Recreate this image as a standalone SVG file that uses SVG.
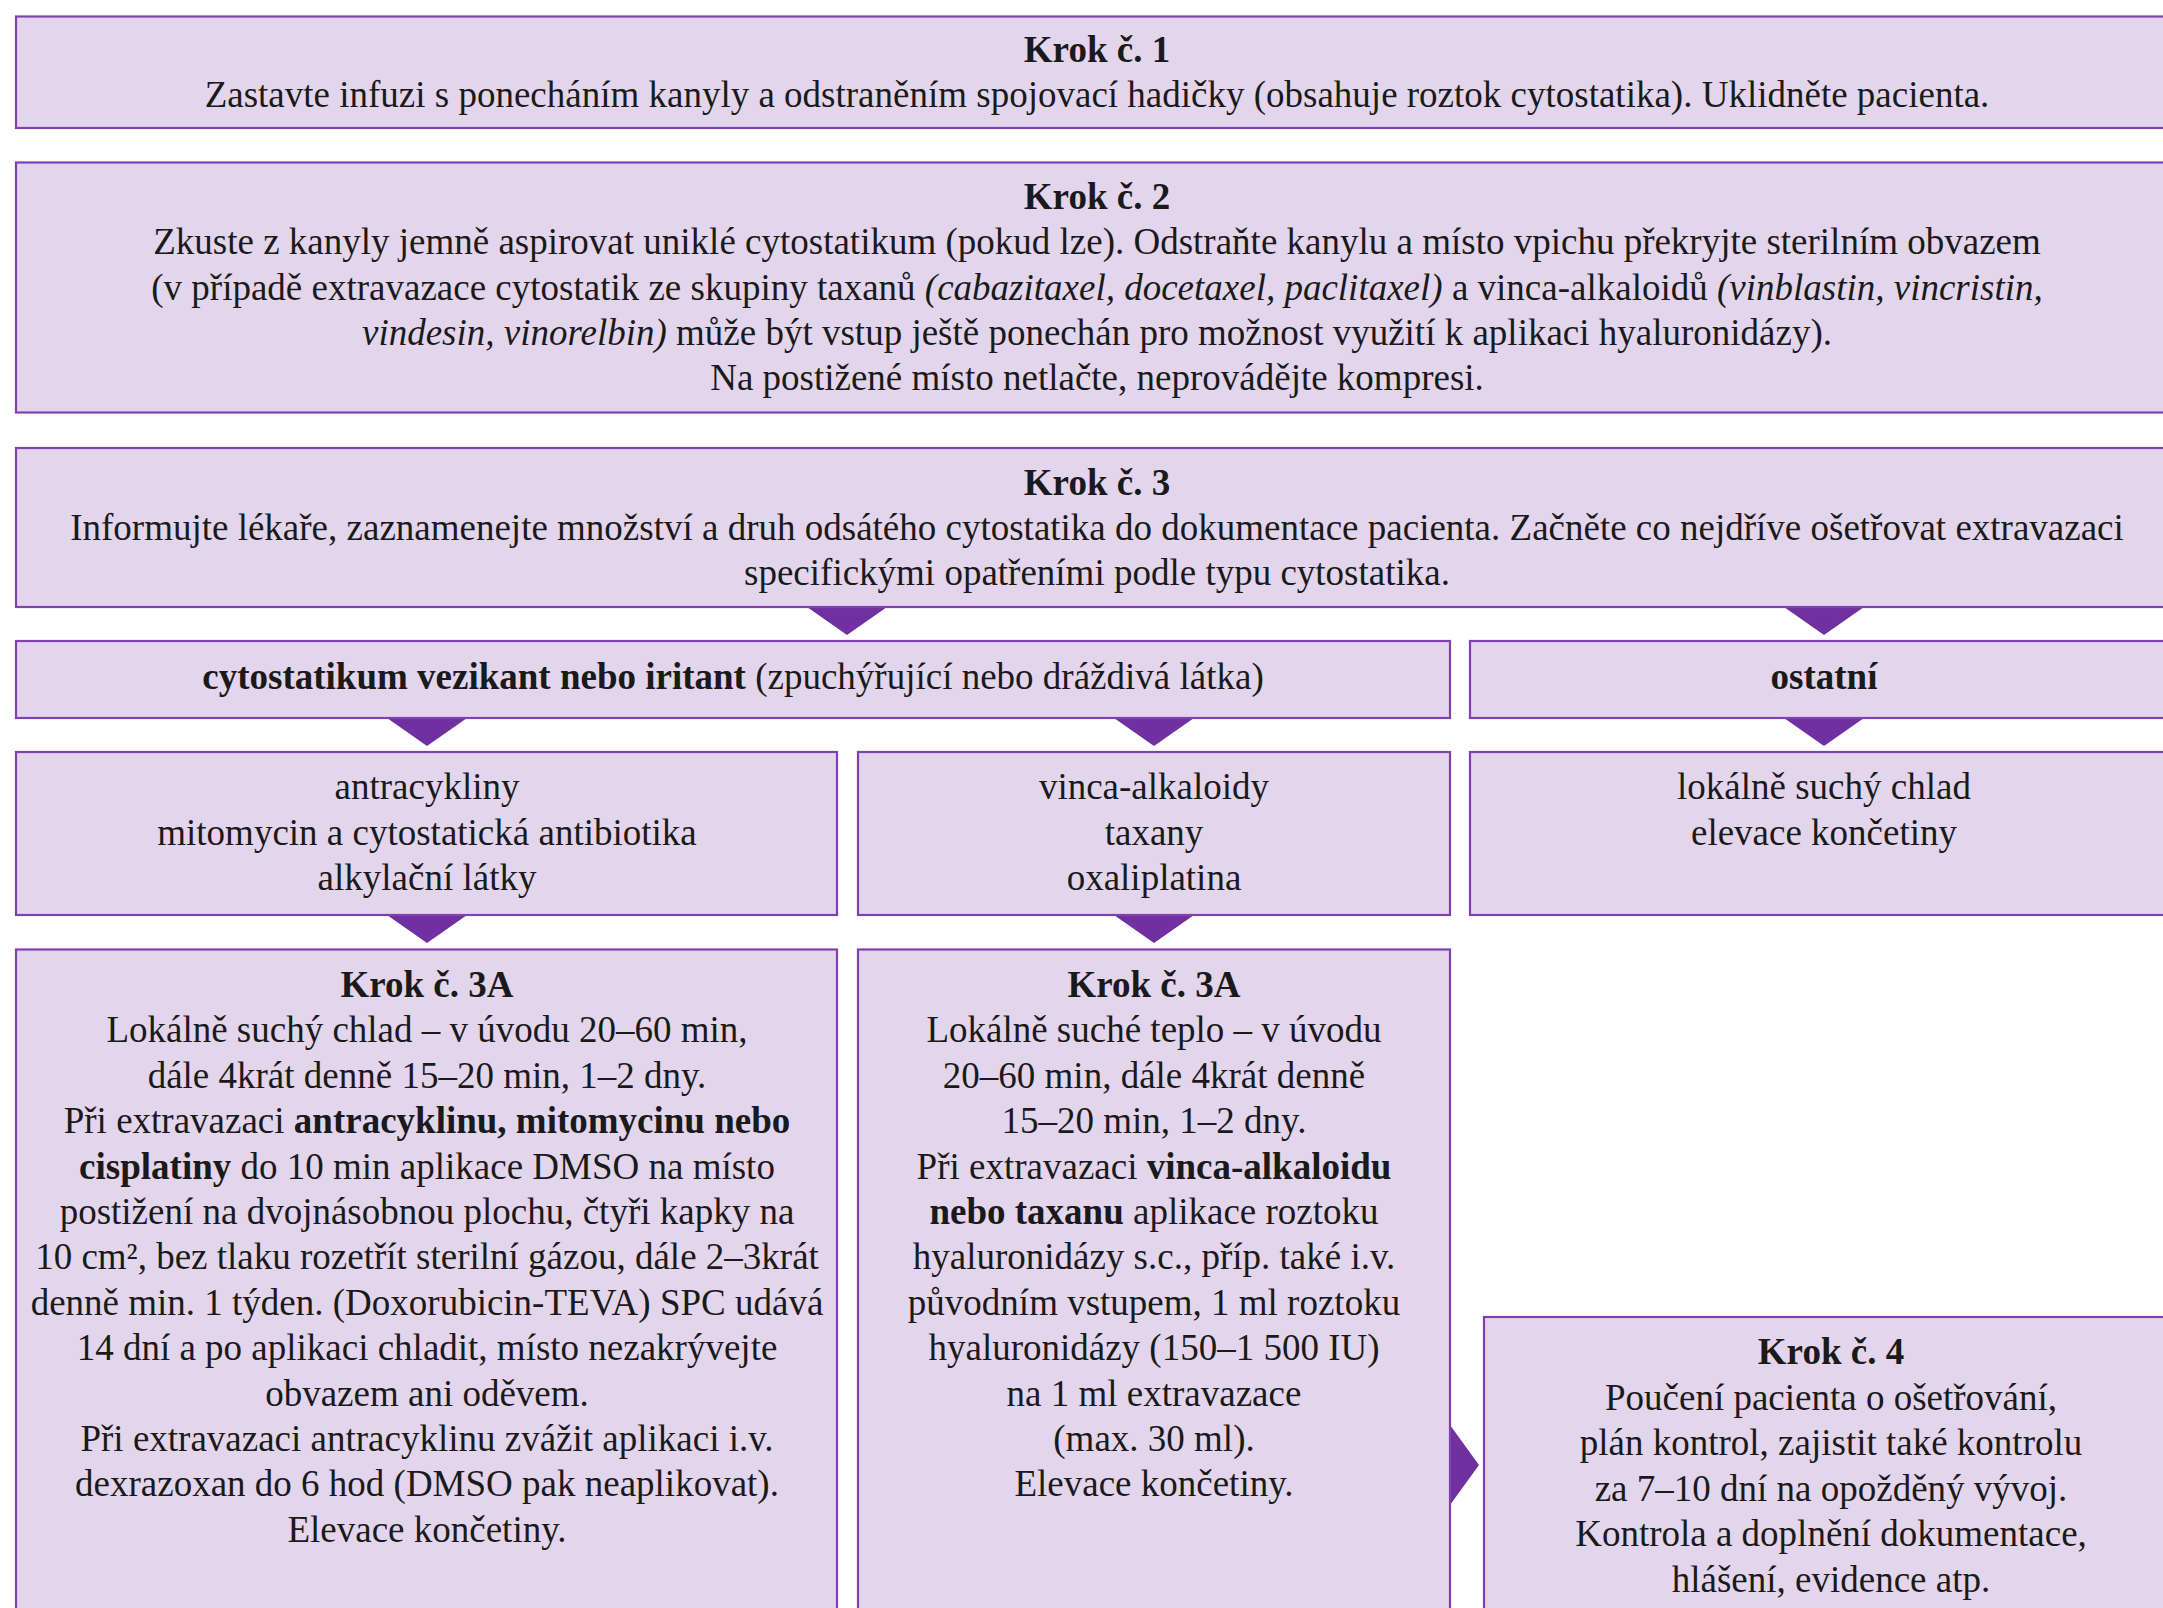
<svg xmlns="http://www.w3.org/2000/svg" width="2163" height="1608" viewBox="0 0 2163 1608">
<style>
.box{fill:#E3D5EC;stroke:#8040B0;stroke-width:2.2}
.tri{fill:#7030A0}
text{font-family:"Liberation Serif","Times New Roman",serif;font-size:37px;fill:#1a1a1a;text-anchor:middle}
.b{font-weight:bold}
.i{font-style:italic}
</style>
<rect width="2163" height="1608" fill="#ffffff"/>
<g id="connectors">
<polygon class="tri" points="807,607 887,607 847,635"/>
<polygon class="tri" points="1784,607 1864,607 1824,635"/>
<polygon class="tri" points="387,718 467,718 427,746"/>
<polygon class="tri" points="1114,718 1194,718 1154,746"/>
<polygon class="tri" points="1784,718 1864,718 1824,746"/>
<polygon class="tri" points="387,915 467,915 427,943"/>
<polygon class="tri" points="1114,915 1194,915 1154,943"/>
<polygon class="tri" points="1450,1425 1450,1505 1479,1465"/>
</g>
<g id="krok1">
<rect class="box" x="16" y="16.5" width="2162" height="111.5"/>
<text x="1097" y="62" class="b">Krok č. 1</text>
<text x="1097" y="107">Zastavte infuzi s ponecháním kanyly a odstraněním spojovací hadičky (obsahuje roztok cytostatika). Uklidněte pacienta.</text>
</g>
<g id="krok2">
<rect class="box" x="16" y="162.5" width="2162" height="250"/>
<text x="1097" y="209" class="b">Krok č. 2</text>
<text x="1097" y="254">Zkuste z kanyly jemně aspirovat uniklé cytostatikum (pokud lze). Odstraňte kanylu a místo vpichu překryjte sterilním obvazem</text>
<text x="1097" y="300">(v případě extravazace cytostatik ze skupiny taxanů <tspan class="i">(cabazitaxel, docetaxel, paclitaxel)</tspan> a vinca-alkaloidů <tspan class="i">(vinblastin, vincristin,</tspan></text>
<text x="1097" y="345"><tspan class="i">vindesin, vinorelbin)</tspan> může být vstup ještě ponechán pro možnost využití k aplikaci hyaluronidázy).</text>
<text x="1097" y="390">Na postižené místo netlačte, neprovádějte kompresi.</text>
</g>
<g id="krok3">
<rect class="box" x="16" y="448" width="2162" height="159"/>
<text x="1097" y="495" class="b">Krok č. 3</text>
<text x="1097" y="540">Informujte lékaře, zaznamenejte množství a druh odsátého cytostatika do dokumentace pacienta. Začněte co nejdříve ošetřovat extravazaci</text>
<text x="1097" y="585">specifickými opatřeními podle typu cytostatika.</text>
</g>
<g id="vezikant">
<rect class="box" x="16" y="641" width="1434" height="77"/>
<text x="733" y="689"><tspan class="b">cytostatikum vezikant nebo iritant</tspan> (zpuchýřující nebo dráždivá látka)</text>
</g>
<g id="ostatni">
<rect class="box" x="1470" y="641" width="708" height="77"/>
<text x="1824" y="689" class="b">ostatní</text>
</g>
<g id="antracykliny">
<rect class="box" x="16" y="752" width="821" height="163"/>
<text x="427" y="799">antracykliny</text>
<text x="427" y="845">mitomycin a cytostatická antibiotika</text>
<text x="427" y="890">alkylační látky</text>
</g>
<g id="vinca">
<rect class="box" x="858" y="752" width="592" height="163"/>
<text x="1154" y="799">vinca-alkaloidy</text>
<text x="1154" y="845">taxany</text>
<text x="1154" y="890">oxaliplatina</text>
</g>
<g id="ostatni-opatreni">
<rect class="box" x="1470" y="752" width="708" height="163"/>
<text x="1824" y="799">lokálně suchý chlad</text>
<text x="1824" y="845">elevace končetiny</text>
</g>
<g id="krok3a-chlad">
<rect class="box" x="16" y="949.5" width="821" height="700"/>
<text x="427" y="997" class="b">Krok č. 3A</text>
<text x="427" y="1042.4">Lokálně suchý chlad – v úvodu 20–60 min,</text>
<text x="427" y="1087.8">dále 4krát denně 15–20 min, 1–2 dny.</text>
<text x="427" y="1133.2">Při extravazaci <tspan class="b">antracyklinu, mitomycinu nebo</tspan></text>
<text x="427" y="1178.6"><tspan class="b">cisplatiny</tspan> do 10 min aplikace DMSO na místo</text>
<text x="427" y="1224">postižení na dvojnásobnou plochu, čtyři kapky na</text>
<text x="427" y="1269.4">10 cm², bez tlaku rozetřít sterilní gázou, dále 2–3krát</text>
<text x="427" y="1314.8">denně min. 1 týden. (Doxorubicin-TEVA) SPC udává</text>
<text x="427" y="1360.2">14 dní a po aplikaci chladit, místo nezakrývejte</text>
<text x="427" y="1405.6">obvazem ani oděvem.</text>
<text x="427" y="1451">Při extravazaci antracyklinu zvážit aplikaci i.v.</text>
<text x="427" y="1496.4">dexrazoxan do 6 hod (DMSO pak neaplikovat).</text>
<text x="427" y="1541.8">Elevace končetiny.</text>
</g>
<g id="krok3a-teplo">
<rect class="box" x="858" y="949.5" width="592" height="700"/>
<text x="1154" y="997" class="b">Krok č. 3A</text>
<text x="1154" y="1042.4">Lokálně suché teplo – v úvodu</text>
<text x="1154" y="1087.8">20–60 min, dále 4krát denně</text>
<text x="1154" y="1133.2">15–20 min, 1–2 dny.</text>
<text x="1154" y="1178.6">Při extravazaci <tspan class="b">vinca-alkaloidu</tspan></text>
<text x="1154" y="1224"><tspan class="b">nebo taxanu</tspan> aplikace roztoku</text>
<text x="1154" y="1269.4">hyaluronidázy s.c., příp. také i.v.</text>
<text x="1154" y="1314.8">původním vstupem, 1 ml roztoku</text>
<text x="1154" y="1360.2">hyaluronidázy (150–1 500 IU)</text>
<text x="1154" y="1405.6">na 1 ml extravazace</text>
<text x="1154" y="1451">(max. 30 ml).</text>
<text x="1154" y="1496.4">Elevace končetiny.</text>
</g>
<g id="krok4">
<rect class="box" x="1484" y="1317" width="694" height="340"/>
<text x="1831" y="1364" class="b">Krok č. 4</text>
<text x="1831" y="1409.5">Poučení pacienta o ošetřování,</text>
<text x="1831" y="1455">plán kontrol, zajistit také kontrolu</text>
<text x="1831" y="1500.5">za 7–10 dní na opožděný vývoj.</text>
<text x="1831" y="1546">Kontrola a doplnění dokumentace,</text>
<text x="1831" y="1591.5">hlášení, evidence atp.</text>
</g>
</svg>
